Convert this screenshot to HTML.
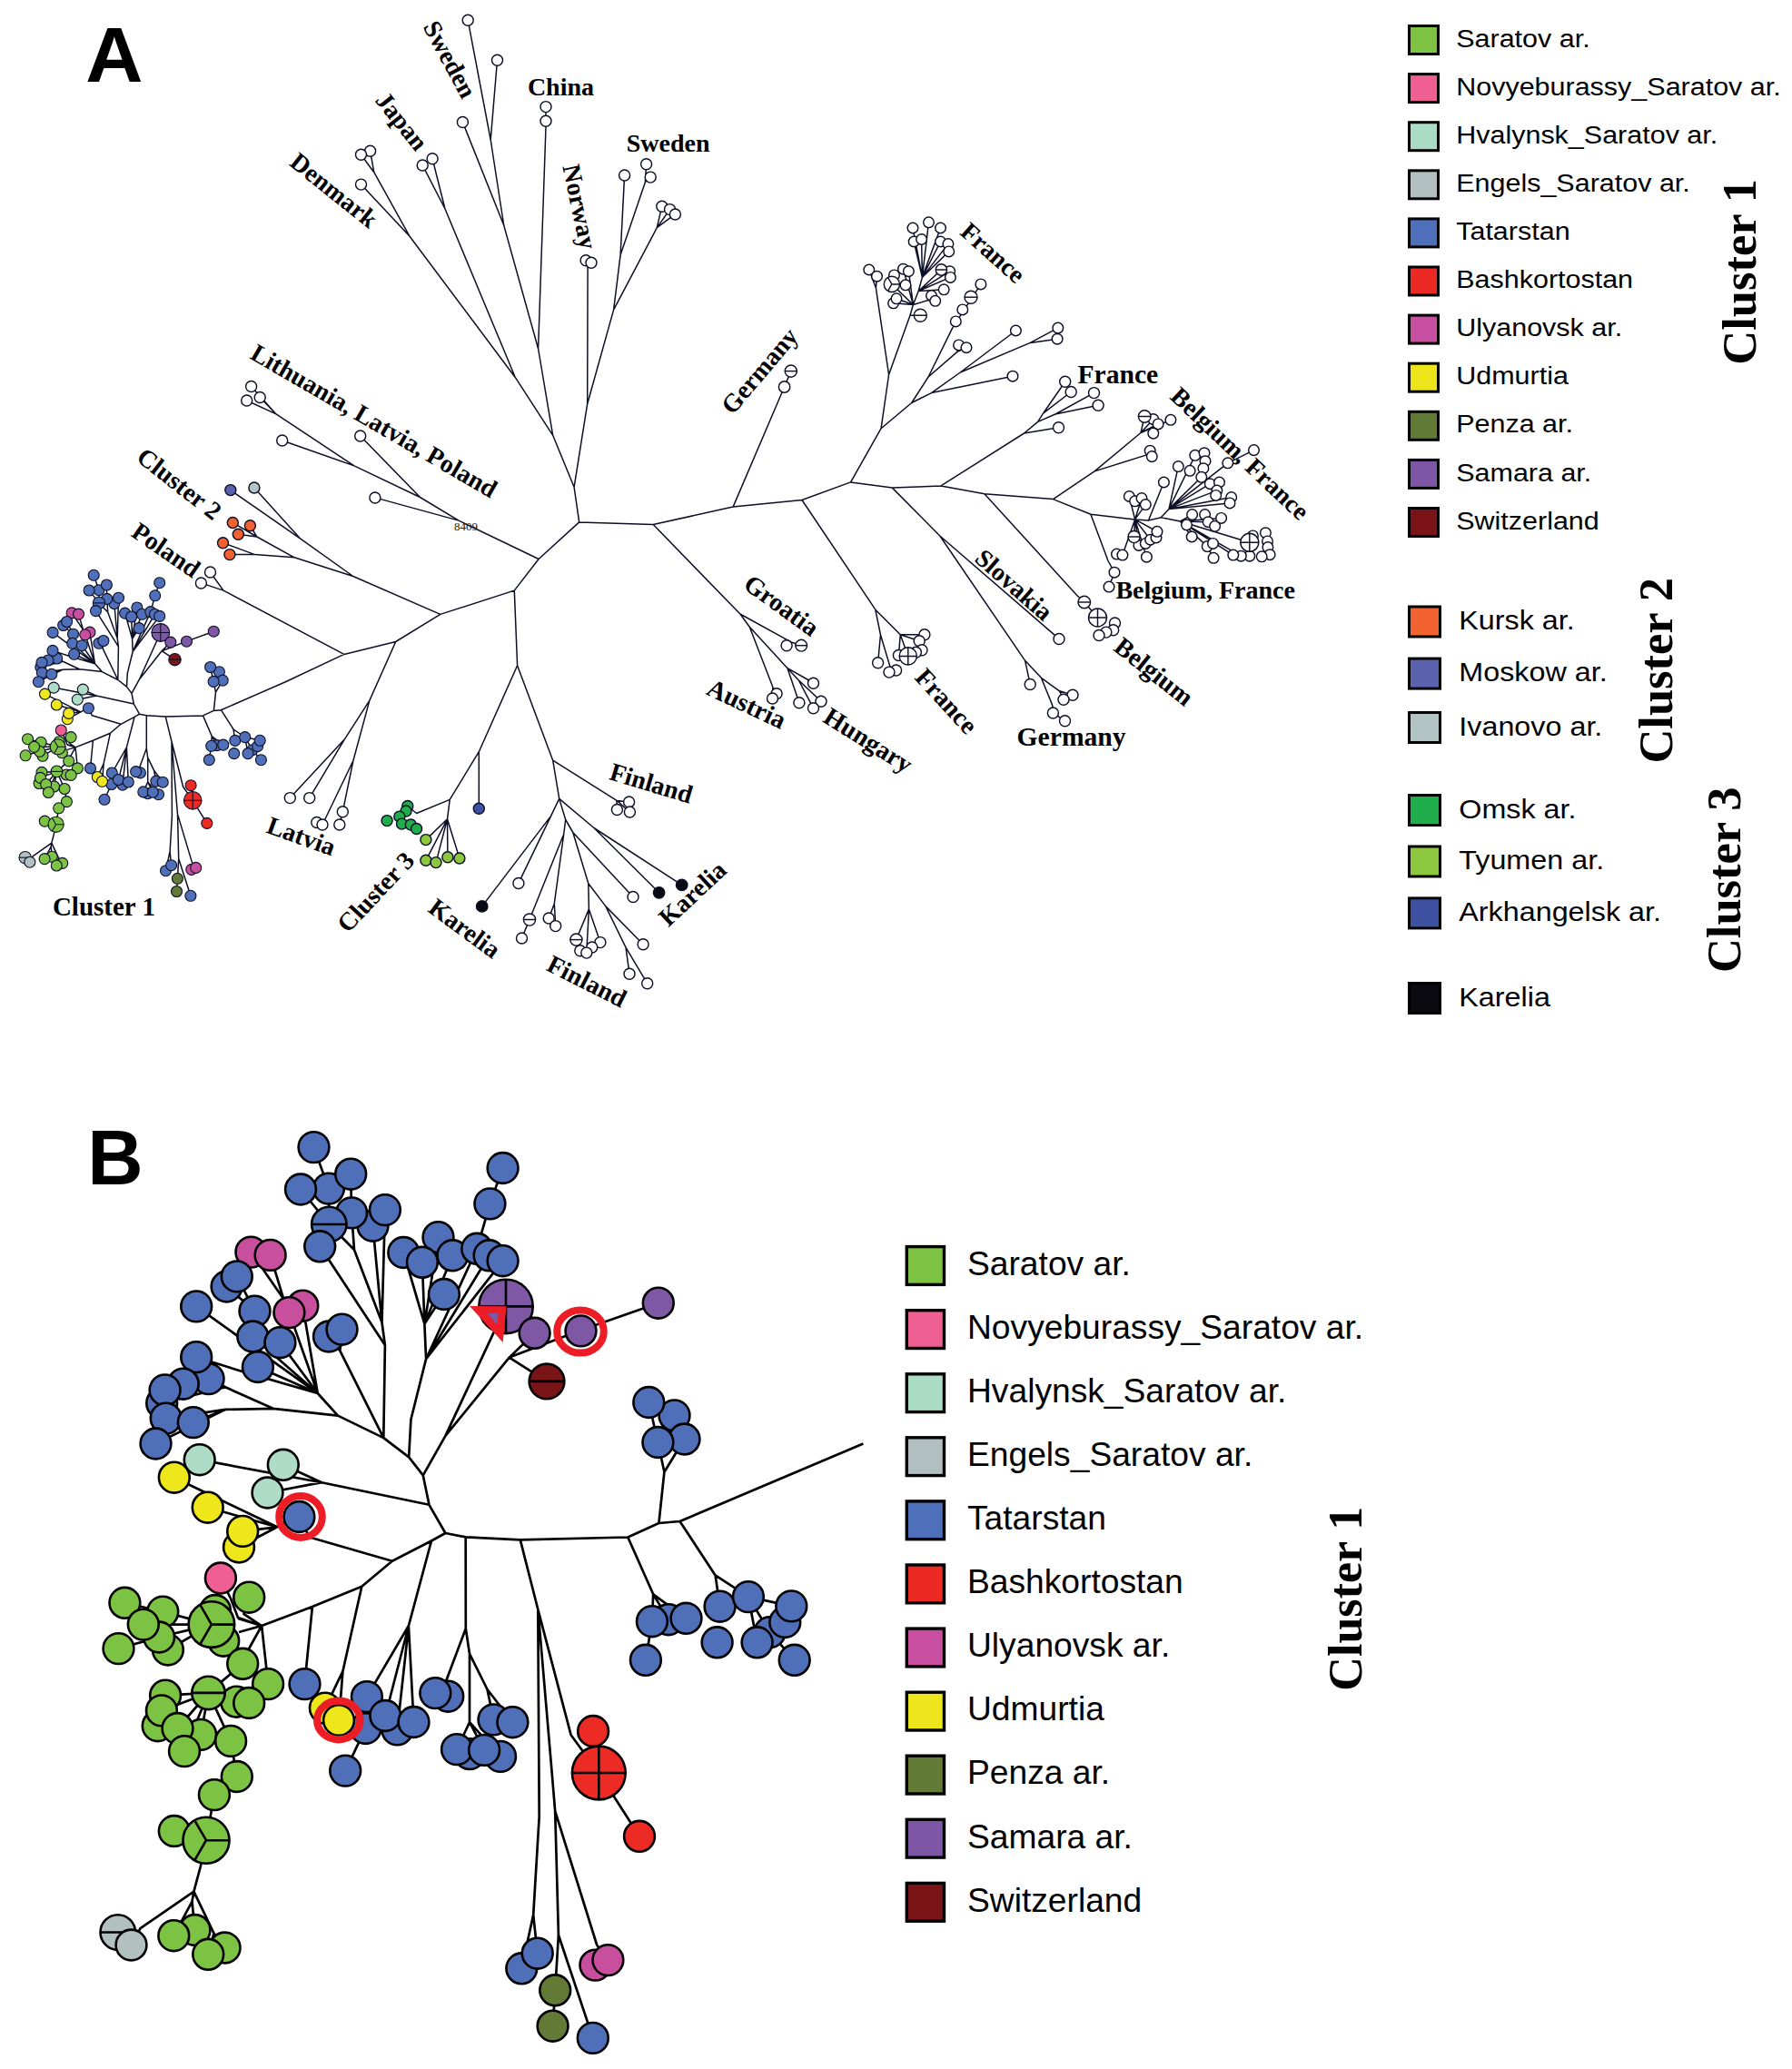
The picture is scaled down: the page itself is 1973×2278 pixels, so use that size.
<!DOCTYPE html>
<html><head><meta charset="utf-8"><style>html,body{margin:0;padding:0;background:#fff;}svg{display:block;}</style></head><body>
<svg width="1973" height="2278" viewBox="0 0 1973 2278">
<rect width="1973" height="2278" fill="#fff"/>
<path d="M719.2 577.5 L637.7 574.9 L632.1 536.3 L608.7 479.3 L592.6 384 L601 139.8M637.7 574.9 L593.1 615.5 L566.3 650.1 L484.8 676.4 L435.7 706.5 L378.8 720.4M592.6 384 L554.7 248 L540.2 154 L515.2 22.3M540.2 154 L547.5 66.3M554.7 248 L509.4 134.4M601 139.8 L601 117.6M608.7 479.3 L567.4 415.7 L490 230 L476.1 174.8M490 230 L465.2 181.9M567.4 415.7 L450.9 260 L411.8 189.7 L407.6 166.3M411.8 189.7 L397.5 170.3M450.9 260 L397.5 203.1M632.1 536.3 L646.7 444.7 L647.1 294.2 L645.1 286.7M647.1 294.2 L651 289.2M646.7 444.7 L675.6 341.1 L683.1 280.8 L687.6 192.9M683.1 280.8 L710.4 200.5 L711.6 180.7M710.4 200.5 L716.2 195.1M675.6 341.1 L723.3 250.7 L728.8 227.2M723.3 250.7 L737.5 230.6M723.3 250.7 L743.4 235.9M593.1 615.5 L505 573.1 L412.9 547.9M505 573.1 L462.5 547.5 L396.7 480M462.5 547.5 L390 512.9 L310.7 485M390 512.9 L304 455.9 L276.6 425.4M304 455.9 L286.2 437.4M304 455.9 L271.7 441M484.8 676.4 L388.8 634.5 L324.1 613.8 L282.8 591 L256.3 575.4M282.8 591 L275.4 578.7M282.8 591 L262.3 588.3M324.1 613.8 L280.6 610.6 L245.5 597.7M280.6 610.6 L252.9 610.6M388.8 634.5 L330.8 593.2 L253.8 539.6M330.8 593.2 L279.9 537M378.8 720.4 L246 650.1 L231.5 630M246 650.1 L221.4 641.9M435.7 706.5 L406.8 771.4 L379.1 814.3 L319.3 878.6M379.1 814.3 L340.7 878.6M406.8 771.4 L388.9 837.5 L355 908M388.9 837.5 L377.3 893.8 L373.8 908M566.3 650.1 L569.6 732.7 L527.3 827.7 L527.3 890.2M527.3 827.7 L495.2 880.4 L492.5 901.8 L468.9 924.6M492.5 901.8 L468.9 947.3M492.5 901.8 L480 949.6M492.5 901.8 L492.9 943.8M492.5 901.8 L505.9 945M495.2 880.4 L458.6 895.5 L448.8 887.5M569.6 732.7 L608.7 837.2 L679 881.4 L692.6 883M679 881.4 L679.4 891.4M679 881.4 L693.4 894M608.7 837.2 L615.7 879.4 L606.6 898.4 L530.7 997.9M606.6 898.4 L570.9 972.4M615.7 879.4 L622.7 902.5 L620.7 918.5 L583 1012.5 L574.5 1033M620.7 918.5 L610.3 994.9 L604.2 1010.9M610.3 994.9 L611.7 1019.6M622.7 902.5 L630.8 916.5 L647.8 972.8 L648.4 1000.9 L634.4 1034.6M648.4 1000.9 L660.9 1037.6M648.4 1000.9 L645.8 1049.1M647.8 972.8 L666.9 997.9 L708.1 1039.7M666.9 997.9 L689 1043.1 L693 1072.2M689 1043.1 L712.7 1082.8M630.8 916.5 L697 987.4M615.7 879.4 L653.9 911.5 L750.7 974.4M653.9 911.5 L725.6 982.8M719.2 577.5 L807.1 558.1 L883 550.5 L936.6 530.9 L982.4 537.1 L1036 534.9 L1083.9 543.8 L1159.5 549.6M807.1 558.1 L863.6 426 L870.8 408.6M883 550.5 L963.8 671.2M936.6 530.9 L970.1 471.7 L978.6 412.5M970.1 471.7 L1003.7 443.5M978.6 412.5 L964.4 317.1 L956.8 297M964.4 317.1 L965.5 304.2M978.6 412.5 L1002 347.2 L1013.3 347.2M1002 347.2 L1005.4 335.5 L983.6 333.8M1005.4 335.5 L987 328.8M1005.4 335.5 L981.9 312.9M1005.4 335.5 L994.5 296.2M1005.4 335.5 L1000.4 298.7M1005.4 335.5 L1022.1 330.5 L1029.7 331.3M1022.1 330.5 L1025.5 325.5M1005.4 335.5 L1011.2 320.5 L1015.4 305.4 L1006.2 266M1015.4 305.4 L1005 251M1015.4 305.4 L1014.6 263.5M1015.4 305.4 L1022.5 244.8M1015.4 305.4 L1035.5 251M1015.4 305.4 L1035.5 266M1015.4 305.4 L1043.9 268.6M1015.4 305.4 L1044.7 276.9M1011.2 320.5 L1036.4 297M1011.2 320.5 L1045.6 298.7M1011.2 320.5 L1046.4 305.4M1011.2 320.5 L1039.2 318.8M1003.7 443.5 L1022.1 415 L1048.9 360.6 L1079.9 312.9M1022.1 415 L1053.9 387.4 L1055.6 379.9M1053.9 387.4 L1064 382.7M1003.7 443.5 L1025.5 432.6 L1115 414.2M1025.5 432.6 L1057.3 410 L1118.4 364M1057.3 410 L1134.3 377.4 L1164.8 361.1M1134.3 377.4 L1164.1 373.2M1036 534.9 L1127.6 477 L1165.5 470.8M1127.6 477 L1142.7 464.4 L1148.5 455.2 L1172.7 420.3M1148.5 455.2 L1179.2 431.5M1142.7 464.4 L1161.9 456 L1204.5 432.6M1161.9 456 L1209.1 446.2M982.4 537.1 L1034.8 590 L1166 703.4M1034.8 590 L1128.6 727.3 L1134.2 753.4M1128.6 727.3 L1146.4 746.3 L1166.5 760.8 L1181 765.3M1166.5 760.8 L1171 770.2M1146.4 746.3 L1158.7 776.4 L1159.4 784.9 L1172.5 793.8M1083.9 543.8 L1186 655.7 L1193.8 663 L1208.5 680M1159.5 549.6 L1205.1 518.9 L1256 476.5 L1260.2 458.5M1256 476.5 L1269.8 461.6M1256 476.5 L1275.1 466.9M1256 476.5 L1288.9 462.3M1205.1 518.9 L1262.4 500.9 L1266.2 496.2M1262.4 500.9 L1268.3 502.6M1159.5 549.6 L1200.9 566.2 L1249.6 571.9 L1264.5 573 L1278.3 569.8 L1299.5 574M1200.9 566.2 L1220 617.5 L1227 630.2 L1221 646.1M1249.6 571.9 L1243.3 546.5M1249.6 571.9 L1257 548.6M1249.6 571.9 L1261.3 555.6M1249.6 571.9 L1248.6 591M1249.6 571.9 L1253.9 600.5M1249.6 571.9 L1266.6 594.2M1249.6 571.9 L1274 585.3M1249.6 571.9 L1262.4 613.2M1249.6 571.9 L1235.9 611.1 L1229.5 610.1M1264.5 573 L1281.4 531M1278.3 569.8 L1287 560.4 L1297.3 513.6M1287 560.4 L1315.8 501.3M1287 560.4 L1322.8 525.3M1287 560.4 L1351.8 509.8 L1380.5 495.6M1287 560.4 L1332.3 532.7M1287 560.4 L1339.8 540.1M1287 560.4 L1355.7 547.5M1287 560.4 L1354 553.9M1299.5 574 L1312.6 566.6M1299.5 574 L1330.2 574.7M1299.5 574 L1344.6 570.4M1299.5 574 L1312.2 591M1299.5 574 L1329.2 601.6 L1336.1 614.3M1299.5 574 L1375.8 597.3M1299.5 574 L1357.8 611.1M1299.5 574 L1366.3 612.2M719.2 577.5 L814.9 676 L871.8 707.3 L866.1 710.7M871.8 707.3 L882.2 710.7M814.9 676 L825.3 690.2 L850.9 756.6 L855.1 763.8M850.9 756.6 L850.5 768.9M825.3 690.2 L867 735.7 L888.8 748 L895.5 752.2M867 735.7 L879.9 773.7M867 735.7 L879.4 749 L904 772.2M879.4 749 L895.5 779.7M963.8 671.2 L969.5 699 L966.6 729.7M969.5 699 L979.9 733.8 L979 740.1M979.9 733.8 L986.6 738M963.8 671.2 L991.3 698.7 L999.8 722.4M991.3 698.7 L1017.9 698.7M991.3 698.7 L1012.2 705.8M991.3 698.7 L989.4 721.5M153.5 786.2 L161.3 787.8 L182.2 788.9 L223.5 787.9 L235.4 782.4 L243.4 781.7 L313.8 751M235.4 782.4 L237.5 762.1 L235.1 750.4 L231.6 734.5M237.5 762.1 L245.2 749.1 L241.4 739.7M243.4 781.7 L257 803 L258.8 815.4M257 803 L269.7 811.6 L286.2 815.3M269.7 811.6 L277.9 825.7M269.7 811.6 L273 829.6M277.9 825.7 L287.4 836.7M223.5 787.9 L233.2 810.5 L232.7 821.3 L230.3 836.6M233.2 810.5 L239 820.6M233.2 810.5 L245.8 820.1M182.2 788.9 L189 816.5 L189.4 898.5 L187.1 937.5 L188.6 952.7M187.1 937.5 L182.5 958.7M189 816.5 L194.2 880.5 L195.5 896.4 L196.7 945.5 L195.4 967.3 L194.5 981.5M196.7 945.5 L209.9 986.3M195.5 896.4 L211.4 949.4 L215.7 955.4M189 816.5 L201.6 866.2 L212.2 881.3M210.1 864.7 L212.2 881.3 L227.8 906.4M161.3 787.8 L161.3 824 L154 844.1 L149.6 849.6M154 844.1 L154.4 850.9M161.3 824 L162.7 834.1 L162.7 861.1 L157.8 871.9M162.7 861.1 L168.3 872.2M162.7 861.1 L174.5 874.7M162.7 834.1 L169.5 848.1 L171.9 860.1M169.5 848.1 L179.2 861.2M153.5 786.2 L148.1 789.3 L139.4 822.9 L123.3 851M139.4 822.9 L130.4 858.5 L122.8 863.5M139.4 822.9 L135 864.1M139.4 822.9 L141.3 861M148.1 789.3 L133.1 797.3 L121.4 807.3 L102.4 815.3 L83 822.9 L73.9 820M83 822.9 L74.2 825.4M133.1 797.3 L101.4 787.8 L97.1 779.4M121.4 807.3 L114.1 840.9 L112.6 860.2M122.8 863.5 L115 880.3M114.1 840.9 L107.3 855.5M102.4 815.3 L100 840.4 L99.5 845.9M83 822.9 L84.9 840.9 L85.4 845.9M83 822.9 L78.1 831.8 L75.7 837.9M67.3 804 L71.1 812.1 L73.9 819.6 L83 822.9M78.1 811.6 L76.2 818.2 L83 822.9M63.7 822.3 L45.1 817.3 L30.5 813.7M63.7 822.3 L37.6 822.3M63.7 822.3 L43.6 827.3 L28.1 831.8M63.7 822.3 L47 832.3M63.7 822.3 L68.4 828.8 L75.7 837.9M75.7 837.9 L62.5 849.4M62.5 849.4 L46 850.4M62.5 849.4 L44.5 856.4M62.5 849.4 L73.2 853 L78.1 853.4M62.5 849.4 L50.7 863.5 L43.1 862.5M62.5 849.4 L53.3 872.5M62.5 849.4 L59.6 866M62.5 849.4 L71.1 868.5 L73.4 882.6 L64.7 889.8 L61.6 907.8M61.6 907.8 L49.3 904.1M61.6 907.8 L59.4 918.2 L56.8 928.1 L36.3 942.6 L32.8 949.2M56.8 928.1 L56.2 932 L57.2 943.3M56.2 932 L49.1 945.6M56.8 928.1 L64.5 944.6 L68.7 950.4M64.5 944.6 L62.3 953M153.5 786.2 L147.3 775 L145 763.4 L139.5 756.1 L129.8 748.5 L112.3 739.6 L104.5 730.8M147.3 775 L106.1 766.1 L59.2 757.1M106.1 766.1 L91.3 759.1M106.1 766.1 L85.3 770.2M97.1 779.4 L88.9 783.8 L49.5 764.1M88.9 783.8 L62.3 776M88.9 783.8 L75.7 785.4M88.9 783.8 L74.3 791.7M145 763.4 L153.6 747.7 L176.8 696.5M153.6 747.7 L178.1 716.7 L187.8 707.1M178.1 716.7 L205.2 706.1 L235.3 695.2M178.1 716.7 L192.5 726.2M139.5 756.1 L140.3 741.3 L146.2 717.2 L145.6 703.4 L137.6 675.1M145.6 703.4 L144.7 679M145.6 703.4 L150.9 669M145.6 703.4 L156.4 676.3M145.6 703.4 L153.1 691.6M146.2 717.2 L165.8 673.6 L170.7 655.8 L175.7 641.7M146.2 717.2 L170.4 676.3M146.2 717.2 L175.7 678.4M129.8 748.5 L130.4 711.8 L129.2 702.8 L125.8 664.5M129.2 702.8 L130.5 658.2M129.2 702.8 L118.7 674 L109 663.9M118.7 674 L117.7 659.4 L117.4 644M109 663.9 L108.9 649.7 L103.2 633.3M109 663.9 L98.1 650M130.4 711.8 L109.2 678.3 L105.5 672.6M129.8 748.5 L113.1 713.9 L108.9 708.3M113.1 713.9 L113.9 705.5M104.5 730.8 L81.6 720.3M104.5 730.8 L90.2 710.7M104.5 730.8 L79.7 708.3 L80.5 698.2 L73.6 684.5M80.5 698.2 L69.7 688.5M104.5 730.8 L93.7 698.8 L91.5 693.3 L86.5 676.1M91.5 693.3 L79.1 674.9M104.5 730.8 L98.9 696.1M104.5 730.8 L58.1 696.4M104.5 730.8 L75.9 722.2 L58 716.4M112.3 739.6 L87.4 736.8 L69.2 737.2 L56.8 742.3M69.2 737.2 L46.3 740.7M69.2 737.2 L42.4 750.7M87.4 736.8 L69.2 728.3 L62.7 725M69.2 728.3 L53 727M69.2 728.3 L46 729.4M69.2 728.3 L44.8 734.6M313.8 751 L378.8 720.4" fill="none" stroke="#0d0f26" stroke-width="1.5" stroke-linejoin="round"/>
<g stroke="#0d0f26" stroke-width="1.45">
<circle cx="515.2" cy="22.3" r="6" fill="#ffffff"/>
<circle cx="547.5" cy="66.3" r="6" fill="#ffffff"/>
<circle cx="509.4" cy="134.4" r="6" fill="#ffffff"/>
<circle cx="601" cy="117.6" r="6" fill="#ffffff"/>
<circle cx="601" cy="133.3" r="6" fill="#ffffff"/>
<circle cx="476.1" cy="174.8" r="6" fill="#ffffff"/>
<circle cx="465.2" cy="181.9" r="6" fill="#ffffff"/>
<circle cx="407.6" cy="166.3" r="6" fill="#ffffff"/>
<circle cx="397.5" cy="170.3" r="6" fill="#ffffff"/>
<circle cx="397.5" cy="203.1" r="6" fill="#ffffff"/>
<circle cx="645.1" cy="286.7" r="6" fill="#ffffff"/>
<circle cx="651" cy="289.2" r="6" fill="#ffffff"/>
<circle cx="687.6" cy="192.9" r="6" fill="#ffffff"/>
<circle cx="711.6" cy="180.7" r="6" fill="#ffffff"/>
<circle cx="716.2" cy="195.1" r="6" fill="#ffffff"/>
<circle cx="728.8" cy="227.2" r="6" fill="#ffffff"/>
<circle cx="737.5" cy="230.6" r="6" fill="#ffffff"/>
<circle cx="743.4" cy="235.9" r="6" fill="#ffffff"/>
<circle cx="276.6" cy="425.4" r="6" fill="#ffffff"/>
<circle cx="286.2" cy="437.4" r="6" fill="#ffffff"/>
<circle cx="271.7" cy="441" r="6" fill="#ffffff"/>
<circle cx="310.7" cy="485" r="6" fill="#ffffff"/>
<circle cx="396.7" cy="480" r="6" fill="#ffffff"/>
<circle cx="412.9" cy="547.9" r="6" fill="#ffffff"/>
<circle cx="253.8" cy="539.6" r="6" fill="#5b62ad"/>
<circle cx="279.9" cy="537" r="6" fill="#b3c4c4"/>
<circle cx="256.3" cy="575.4" r="6" fill="#f26130"/>
<circle cx="275.4" cy="578.7" r="6" fill="#f26130"/>
<circle cx="262.3" cy="588.3" r="6" fill="#f26130"/>
<circle cx="245.5" cy="597.7" r="6" fill="#f26130"/>
<circle cx="252.9" cy="610.6" r="6" fill="#f26130"/>
<circle cx="231.5" cy="630" r="6" fill="#ffffff"/>
<circle cx="221.4" cy="641.9" r="6" fill="#ffffff"/>
<circle cx="319.3" cy="878.6" r="6" fill="#ffffff"/>
<circle cx="340.7" cy="878.6" r="6" fill="#ffffff"/>
<circle cx="348.8" cy="905.4" r="6" fill="#ffffff"/>
<circle cx="355" cy="908" r="6" fill="#ffffff"/>
<circle cx="377.3" cy="893.8" r="6" fill="#ffffff"/>
<circle cx="373.8" cy="908" r="6" fill="#ffffff"/>
<circle cx="527.3" cy="890.2" r="6" fill="#3f51a3"/>
<circle cx="448.8" cy="887.5" r="6" fill="#1fae4b"/>
<circle cx="447" cy="892.9" r="6" fill="#1fae4b"/>
<circle cx="439.8" cy="899.1" r="6" fill="#1fae4b"/>
<circle cx="426.1" cy="903.6" r="6" fill="#1fae4b"/>
<circle cx="442.5" cy="907.1" r="6" fill="#1fae4b"/>
<circle cx="452.3" cy="908" r="6" fill="#1fae4b"/>
<circle cx="458.6" cy="912.5" r="6" fill="#1fae4b"/>
<circle cx="468.9" cy="924.6" r="6" fill="#8dc63f"/>
<circle cx="468.9" cy="947.3" r="6" fill="#8dc63f"/>
<circle cx="480" cy="949.6" r="6" fill="#8dc63f"/>
<circle cx="492.9" cy="943.8" r="6" fill="#8dc63f"/>
<circle cx="505.9" cy="945" r="6" fill="#8dc63f"/>
<circle cx="692.6" cy="883" r="6" fill="#ffffff"/>
<circle cx="679.4" cy="891.4" r="6" fill="#ffffff"/>
<circle cx="693.4" cy="894" r="6" fill="#ffffff"/>
<circle cx="570.9" cy="972.4" r="6" fill="#ffffff"/>
<circle cx="574.5" cy="1033" r="6" fill="#ffffff"/>
<circle cx="604.2" cy="1010.9" r="6" fill="#ffffff"/>
<circle cx="611.7" cy="1019.6" r="6" fill="#ffffff"/>
<circle cx="660.9" cy="1037.6" r="6" fill="#ffffff"/>
<circle cx="651.8" cy="1043" r="6" fill="#ffffff"/>
<circle cx="638.8" cy="1046.7" r="6" fill="#ffffff"/>
<circle cx="645.8" cy="1049.1" r="6" fill="#ffffff"/>
<circle cx="708.1" cy="1039.7" r="6" fill="#ffffff"/>
<circle cx="693" cy="1072.2" r="6" fill="#ffffff"/>
<circle cx="712.7" cy="1082.8" r="6" fill="#ffffff"/>
<circle cx="697" cy="987.4" r="6" fill="#ffffff"/>
<circle cx="583" cy="1012.5" r="6.6" fill="#ffffff"/><path d="M576.4 1012.5H589.6"/>
<circle cx="634.4" cy="1034.6" r="6.6" fill="#ffffff"/><path d="M627.8 1034.6H641"/>
<circle cx="530.7" cy="997.9" r="6.2" fill="#0a0a12"/>
<circle cx="725.6" cy="982.8" r="6.2" fill="#0a0a12"/>
<circle cx="750.7" cy="974.4" r="6.2" fill="#0a0a12"/>
<circle cx="863.6" cy="426" r="6.2" fill="#ffffff"/>
<circle cx="870.8" cy="408.6" r="6.6" fill="#ffffff"/><path d="M864.2 408.6H877.4"/>
<circle cx="866.1" cy="710.7" r="6" fill="#ffffff"/>
<circle cx="882.2" cy="710.7" r="6.4" fill="#ffffff"/><path d="M875.8 710.7H888.6"/>
<circle cx="855.1" cy="763.8" r="6" fill="#ffffff"/>
<circle cx="850.5" cy="768.9" r="6" fill="#ffffff"/>
<circle cx="895.5" cy="752.2" r="6" fill="#ffffff"/>
<circle cx="879.9" cy="773.7" r="6" fill="#ffffff"/>
<circle cx="904" cy="772.2" r="6" fill="#ffffff"/>
<circle cx="895.5" cy="779.7" r="6" fill="#ffffff"/>
<circle cx="966.6" cy="729.7" r="6" fill="#ffffff"/>
<circle cx="986.6" cy="738" r="6" fill="#ffffff"/>
<circle cx="979" cy="740.1" r="6" fill="#ffffff"/>
<circle cx="1017.9" cy="698.7" r="6" fill="#ffffff"/>
<circle cx="1012.2" cy="705.8" r="6" fill="#ffffff"/>
<circle cx="1015" cy="715.8" r="6" fill="#ffffff"/>
<circle cx="1008.4" cy="718.3" r="6" fill="#ffffff"/>
<circle cx="989.4" cy="721.5" r="6" fill="#ffffff"/>
<circle cx="999.8" cy="722.4" r="9.6" fill="#ffffff"/><path d="M990.2 722.4H1009.4M999.8 712.8V732"/>
<circle cx="1166" cy="703.4" r="6" fill="#ffffff"/>
<circle cx="1134.2" cy="753.4" r="6" fill="#ffffff"/>
<circle cx="1181" cy="765.3" r="6" fill="#ffffff"/>
<circle cx="1171" cy="770.2" r="6" fill="#ffffff"/>
<circle cx="1159.4" cy="784.9" r="6" fill="#ffffff"/>
<circle cx="1172.5" cy="793.8" r="6" fill="#ffffff"/>
<circle cx="1193.8" cy="663" r="6.8" fill="#ffffff"/><path d="M1187 663H1200.6"/>
<circle cx="1208.5" cy="680" r="10" fill="#ffffff"/><path d="M1198.5 680H1218.5M1208.5 670V690"/>
<circle cx="1227.5" cy="686" r="6" fill="#ffffff"/>
<circle cx="1225.7" cy="693.8" r="6" fill="#ffffff"/>
<circle cx="1217.9" cy="696.1" r="6" fill="#ffffff"/>
<circle cx="1210" cy="699.4" r="6" fill="#ffffff"/>
<circle cx="956.8" cy="297" r="5.8" fill="#ffffff"/>
<circle cx="965.5" cy="304.2" r="5.8" fill="#ffffff"/>
<circle cx="983.6" cy="333.8" r="5.8" fill="#ffffff"/>
<circle cx="987" cy="328.8" r="5.8" fill="#ffffff"/>
<circle cx="994.5" cy="296.2" r="5.8" fill="#ffffff"/>
<circle cx="1000.4" cy="298.7" r="5.8" fill="#ffffff"/>
<circle cx="997" cy="313.8" r="5.8" fill="#ffffff"/>
<circle cx="984.5" cy="302.9" r="5.8" fill="#ffffff"/>
<circle cx="1025.5" cy="325.5" r="5.8" fill="#ffffff"/>
<circle cx="1029.7" cy="331.3" r="5.8" fill="#ffffff"/>
<circle cx="1006.2" cy="266" r="5.8" fill="#ffffff"/>
<circle cx="1005" cy="251" r="5.8" fill="#ffffff"/>
<circle cx="1014.6" cy="263.5" r="5.8" fill="#ffffff"/>
<circle cx="1022.5" cy="244.8" r="5.8" fill="#ffffff"/>
<circle cx="1035.5" cy="251" r="5.8" fill="#ffffff"/>
<circle cx="1035.5" cy="266" r="5.8" fill="#ffffff"/>
<circle cx="1043.9" cy="268.6" r="5.8" fill="#ffffff"/>
<circle cx="1044.7" cy="276.9" r="5.8" fill="#ffffff"/>
<circle cx="1045.6" cy="298.7" r="5.8" fill="#ffffff"/>
<circle cx="1046.4" cy="305.4" r="5.8" fill="#ffffff"/>
<circle cx="1039.2" cy="318.8" r="5.8" fill="#ffffff"/>
<circle cx="1052.3" cy="353.9" r="5.8" fill="#ffffff"/>
<circle cx="1059.8" cy="340.9" r="5.8" fill="#ffffff"/>
<circle cx="1079.9" cy="312.9" r="5.8" fill="#ffffff"/>
<circle cx="1055.6" cy="379.9" r="5.8" fill="#ffffff"/>
<circle cx="1064" cy="382.7" r="5.8" fill="#ffffff"/>
<circle cx="1115" cy="414.2" r="5.8" fill="#ffffff"/>
<circle cx="1118.4" cy="364" r="5.8" fill="#ffffff"/>
<circle cx="1164.8" cy="361.1" r="5.8" fill="#ffffff"/>
<circle cx="1164.1" cy="373.2" r="5.8" fill="#ffffff"/>
<circle cx="981.9" cy="312.9" r="8.6" fill="#ffffff"/><path d="M981.9 312.9L990.5 312.9M981.9 312.9L977.6 320.3M981.9 312.9L977.6 305.5"/>
<circle cx="1036.4" cy="297" r="6.2" fill="#ffffff"/><path d="M1030.2 297H1042.6"/>
<circle cx="1013.3" cy="347.2" r="7" fill="#ffffff"/><path d="M1006.3 347.2H1020.3"/>
<circle cx="1069" cy="327.2" r="7" fill="#ffffff"/><path d="M1062 327.2H1076"/>
<circle cx="1165.5" cy="470.8" r="6" fill="#ffffff"/>
<circle cx="1172.7" cy="420.3" r="6" fill="#ffffff"/>
<circle cx="1179.2" cy="431.5" r="6" fill="#ffffff"/>
<circle cx="1204.5" cy="432.6" r="6" fill="#ffffff"/>
<circle cx="1209.1" cy="446.2" r="6" fill="#ffffff"/>
<circle cx="1269.8" cy="461.6" r="5.8" fill="#ffffff"/>
<circle cx="1275.1" cy="466.9" r="5.8" fill="#ffffff"/>
<circle cx="1269.8" cy="477.1" r="5.8" fill="#ffffff"/>
<circle cx="1288.9" cy="462.3" r="5.8" fill="#ffffff"/>
<circle cx="1266.2" cy="496.2" r="5.8" fill="#ffffff"/>
<circle cx="1268.3" cy="502.6" r="5.8" fill="#ffffff"/>
<circle cx="1227" cy="630.2" r="5.8" fill="#ffffff"/>
<circle cx="1221" cy="646.1" r="5.8" fill="#ffffff"/>
<circle cx="1243.3" cy="546.5" r="5.8" fill="#ffffff"/>
<circle cx="1249.6" cy="551.8" r="5.8" fill="#ffffff"/>
<circle cx="1257" cy="548.6" r="5.8" fill="#ffffff"/>
<circle cx="1261.3" cy="555.6" r="5.8" fill="#ffffff"/>
<circle cx="1253.9" cy="600.5" r="5.8" fill="#ffffff"/>
<circle cx="1261.3" cy="598.4" r="5.8" fill="#ffffff"/>
<circle cx="1266.6" cy="594.2" r="5.8" fill="#ffffff"/>
<circle cx="1273" cy="592" r="5.8" fill="#ffffff"/>
<circle cx="1274" cy="585.3" r="5.8" fill="#ffffff"/>
<circle cx="1262.4" cy="613.2" r="5.8" fill="#ffffff"/>
<circle cx="1229.5" cy="610.1" r="5.8" fill="#ffffff"/>
<circle cx="1235.9" cy="611.1" r="5.8" fill="#ffffff"/>
<circle cx="1281.4" cy="531" r="5.8" fill="#ffffff"/>
<circle cx="1297.3" cy="513.6" r="5.8" fill="#ffffff"/>
<circle cx="1310.1" cy="518.3" r="5.8" fill="#ffffff"/>
<circle cx="1315.8" cy="501.3" r="5.8" fill="#ffffff"/>
<circle cx="1326" cy="498.7" r="5.8" fill="#ffffff"/>
<circle cx="1327" cy="507.7" r="5.8" fill="#ffffff"/>
<circle cx="1324.9" cy="515.7" r="5.8" fill="#ffffff"/>
<circle cx="1322.8" cy="525.3" r="5.8" fill="#ffffff"/>
<circle cx="1351.8" cy="509.8" r="5.8" fill="#ffffff"/>
<circle cx="1380.5" cy="495.6" r="5.8" fill="#ffffff"/>
<circle cx="1332.3" cy="532.7" r="5.8" fill="#ffffff"/>
<circle cx="1342.5" cy="531" r="5.8" fill="#ffffff"/>
<circle cx="1339.8" cy="540.1" r="5.8" fill="#ffffff"/>
<circle cx="1338.7" cy="545.4" r="5.8" fill="#ffffff"/>
<circle cx="1355.7" cy="547.5" r="5.8" fill="#ffffff"/>
<circle cx="1354" cy="553.9" r="5.8" fill="#ffffff"/>
<circle cx="1312.6" cy="566.6" r="5.8" fill="#ffffff"/>
<circle cx="1306.5" cy="577.8" r="5.8" fill="#ffffff"/>
<circle cx="1326.6" cy="566.6" r="5.8" fill="#ffffff"/>
<circle cx="1330.2" cy="574.7" r="5.8" fill="#ffffff"/>
<circle cx="1337.6" cy="579.3" r="5.8" fill="#ffffff"/>
<circle cx="1344.6" cy="570.4" r="5.8" fill="#ffffff"/>
<circle cx="1312.2" cy="591" r="5.8" fill="#ffffff"/>
<circle cx="1329.2" cy="601.6" r="5.8" fill="#ffffff"/>
<circle cx="1335.5" cy="598.4" r="5.8" fill="#ffffff"/>
<circle cx="1336.1" cy="614.3" r="5.8" fill="#ffffff"/>
<circle cx="1379.4" cy="589.9" r="5.8" fill="#ffffff"/>
<circle cx="1393.4" cy="586.7" r="5.8" fill="#ffffff"/>
<circle cx="1395.5" cy="595.9" r="5.8" fill="#ffffff"/>
<circle cx="1395.9" cy="602.6" r="5.8" fill="#ffffff"/>
<circle cx="1398.1" cy="610.7" r="5.8" fill="#ffffff"/>
<circle cx="1389.2" cy="612.8" r="5.8" fill="#ffffff"/>
<circle cx="1375.8" cy="612.2" r="5.8" fill="#ffffff"/>
<circle cx="1366.3" cy="612.2" r="5.8" fill="#ffffff"/>
<circle cx="1357.8" cy="611.1" r="5.8" fill="#ffffff"/>
<circle cx="1260.2" cy="458.5" r="6.8" fill="#ffffff"/><path d="M1253.4 458.5H1267"/>
<circle cx="1248.6" cy="591" r="6.6" fill="#ffffff"/><path d="M1242 591H1255.2"/>
<circle cx="1375.8" cy="597.3" r="10" fill="#ffffff"/><path d="M1365.8 597.3H1385.8M1375.8 587.3V607.3"/>
</g>
<g stroke="#0d0f26" stroke-width="1.1">
<circle cx="103.2" cy="633.3" r="6" fill="#4f6fb8"/>
<circle cx="108.9" cy="649.7" r="6" fill="#4f6fb8"/>
<circle cx="98.1" cy="650" r="6" fill="#4f6fb8"/>
<circle cx="117.4" cy="644" r="6" fill="#4f6fb8"/>
<circle cx="125.8" cy="664.5" r="6" fill="#4f6fb8"/>
<circle cx="117.7" cy="659.4" r="6" fill="#4f6fb8"/>
<circle cx="130.5" cy="658.2" r="6" fill="#4f6fb8"/>
<circle cx="109" cy="663.9" r="6.7" fill="#4f6fb8"/><path d="M102.3 663.9H115.7"/>
<circle cx="105.5" cy="672.6" r="6" fill="#4f6fb8"/>
<circle cx="175.7" cy="641.7" r="6" fill="#4f6fb8"/>
<circle cx="170.7" cy="655.8" r="6" fill="#4f6fb8"/>
<circle cx="150.9" cy="669" r="6" fill="#4f6fb8"/>
<circle cx="137.6" cy="675.1" r="6" fill="#4f6fb8"/>
<circle cx="144.7" cy="679" r="6" fill="#4f6fb8"/>
<circle cx="156.4" cy="676.3" r="6" fill="#4f6fb8"/>
<circle cx="165.8" cy="673.6" r="6" fill="#4f6fb8"/>
<circle cx="170.4" cy="676.3" r="6" fill="#4f6fb8"/>
<circle cx="175.7" cy="678.4" r="6" fill="#4f6fb8"/>
<circle cx="153.1" cy="691.6" r="6" fill="#4f6fb8"/>
<circle cx="79.1" cy="674.9" r="6" fill="#c84f9e"/>
<circle cx="86.5" cy="676.1" r="6" fill="#c84f9e"/>
<circle cx="69.7" cy="688.5" r="6" fill="#4f6fb8"/>
<circle cx="73.6" cy="684.5" r="6" fill="#4f6fb8"/>
<circle cx="58.1" cy="696.4" r="6" fill="#4f6fb8"/>
<circle cx="80.5" cy="698.2" r="6" fill="#4f6fb8"/>
<circle cx="98.9" cy="696.1" r="6" fill="#c84f9e"/>
<circle cx="93.7" cy="698.8" r="6" fill="#c84f9e"/>
<circle cx="79.7" cy="708.3" r="6" fill="#4f6fb8"/>
<circle cx="90.2" cy="710.7" r="6" fill="#4f6fb8"/>
<circle cx="81.6" cy="720.3" r="6" fill="#4f6fb8"/>
<circle cx="108.9" cy="708.3" r="6" fill="#4f6fb8"/>
<circle cx="113.9" cy="705.5" r="6" fill="#4f6fb8"/>
<circle cx="62.7" cy="725" r="6" fill="#4f6fb8"/>
<circle cx="58" cy="716.4" r="6" fill="#4f6fb8"/>
<circle cx="53" cy="727" r="6" fill="#4f6fb8"/>
<circle cx="44.8" cy="734.6" r="6" fill="#4f6fb8"/>
<circle cx="46" cy="729.4" r="6" fill="#4f6fb8"/>
<circle cx="46.3" cy="740.7" r="6" fill="#4f6fb8"/>
<circle cx="56.8" cy="742.3" r="6" fill="#4f6fb8"/>
<circle cx="42.4" cy="750.7" r="6" fill="#4f6fb8"/>
<circle cx="59.2" cy="757.1" r="6" fill="#aedcc6"/>
<circle cx="91.3" cy="759.1" r="6" fill="#aedcc6"/>
<circle cx="85.3" cy="770.2" r="6" fill="#aedcc6"/>
<circle cx="49.5" cy="764.1" r="6" fill="#eee71c"/>
<circle cx="62.3" cy="776" r="6" fill="#eee71c"/>
<circle cx="74.3" cy="791.7" r="6" fill="#eee71c"/>
<circle cx="75.7" cy="785.4" r="6" fill="#eee71c"/>
<circle cx="97.4" cy="779.7" r="6" fill="#4f6fb8"/>
<circle cx="65.2" cy="816.7" r="6" fill="#7cc243"/>
<circle cx="67.3" cy="804" r="6" fill="#ef5f93"/>
<circle cx="78.1" cy="811.6" r="6" fill="#7cc243"/>
<circle cx="30.5" cy="813.7" r="6" fill="#7cc243"/>
<circle cx="45.1" cy="817.3" r="6" fill="#7cc243"/>
<circle cx="68.4" cy="828.8" r="6" fill="#7cc243"/>
<circle cx="63.7" cy="822.3" r="8.5" fill="#7cc243"/><path d="M63.7 822.3L72.3 822.3M63.7 822.3L59.5 829.7M63.7 822.3L59.5 814.9"/>
<circle cx="47" cy="832.3" r="6" fill="#7cc243"/>
<circle cx="43.6" cy="827.3" r="6" fill="#7cc243"/>
<circle cx="37.6" cy="822.3" r="6" fill="#7cc243"/>
<circle cx="28.1" cy="831.8" r="6" fill="#7cc243"/>
<circle cx="75.7" cy="837.9" r="6" fill="#7cc243"/>
<circle cx="85.4" cy="845.9" r="6" fill="#7cc243"/>
<circle cx="46" cy="850.4" r="6" fill="#7cc243"/>
<circle cx="43.1" cy="862.5" r="6" fill="#7cc243"/>
<circle cx="44.5" cy="856.4" r="6" fill="#7cc243"/>
<circle cx="73.2" cy="853" r="6" fill="#7cc243"/>
<circle cx="78.1" cy="853.4" r="6" fill="#7cc243"/>
<circle cx="62.5" cy="849.4" r="6.4" fill="#7cc243"/><path d="M56.1 849.4H68.9"/>
<circle cx="59.6" cy="866" r="6" fill="#7cc243"/>
<circle cx="50.7" cy="863.5" r="6" fill="#7cc243"/>
<circle cx="71.1" cy="868.5" r="6" fill="#7cc243"/>
<circle cx="53.3" cy="872.5" r="6" fill="#7cc243"/>
<circle cx="73.4" cy="882.6" r="6" fill="#7cc243"/>
<circle cx="64.7" cy="889.8" r="6" fill="#7cc243"/>
<circle cx="49.3" cy="904.1" r="6" fill="#7cc243"/>
<circle cx="61.6" cy="907.8" r="8.6" fill="#7cc243"/><path d="M61.6 907.8L70.2 907.8M61.6 907.8L57.3 915.2M61.6 907.8L57.3 900.3"/>
<circle cx="27.7" cy="944.2" r="6.7" fill="#b2c0c0"/><path d="M20.9 944.2H34.4"/>
<circle cx="32.8" cy="949.2" r="6" fill="#b2c0c0"/>
<circle cx="57.2" cy="943.3" r="6" fill="#7cc243"/>
<circle cx="49.1" cy="945.6" r="6" fill="#7cc243"/>
<circle cx="68.7" cy="950.4" r="6" fill="#7cc243"/>
<circle cx="62.3" cy="953" r="6" fill="#7cc243"/>
<circle cx="99.5" cy="845.9" r="6" fill="#4f6fb8"/>
<circle cx="107.3" cy="855.5" r="6" fill="#eee71c"/>
<circle cx="122.8" cy="863.5" r="6" fill="#4f6fb8"/>
<circle cx="112.5" cy="860.3" r="6" fill="#eee71c"/>
<circle cx="115" cy="880.3" r="6" fill="#4f6fb8"/>
<circle cx="123.3" cy="851" r="6" fill="#4f6fb8"/>
<circle cx="135" cy="864.1" r="6" fill="#4f6fb8"/>
<circle cx="130.4" cy="858.5" r="6" fill="#4f6fb8"/>
<circle cx="141.3" cy="861" r="6" fill="#4f6fb8"/>
<circle cx="154.4" cy="850.9" r="6" fill="#4f6fb8"/>
<circle cx="149.6" cy="849.6" r="6" fill="#4f6fb8"/>
<circle cx="171.9" cy="860.1" r="6" fill="#4f6fb8"/>
<circle cx="179.2" cy="861.2" r="6" fill="#4f6fb8"/>
<circle cx="162.7" cy="873.7" r="6" fill="#4f6fb8"/>
<circle cx="157.8" cy="871.9" r="6" fill="#4f6fb8"/>
<circle cx="174.5" cy="874.7" r="6" fill="#4f6fb8"/>
<circle cx="168.3" cy="872.2" r="6" fill="#4f6fb8"/>
<circle cx="241.4" cy="739.7" r="6" fill="#4f6fb8"/>
<circle cx="231.6" cy="734.5" r="6" fill="#4f6fb8"/>
<circle cx="245.2" cy="749.1" r="6" fill="#4f6fb8"/>
<circle cx="235.1" cy="750.4" r="6" fill="#4f6fb8"/>
<circle cx="239" cy="820.6" r="6" fill="#4f6fb8"/>
<circle cx="232.7" cy="821.3" r="6" fill="#4f6fb8"/>
<circle cx="245.8" cy="820.1" r="6" fill="#4f6fb8"/>
<circle cx="230.3" cy="836.6" r="6" fill="#4f6fb8"/>
<circle cx="258.8" cy="815.4" r="6" fill="#4f6fb8"/>
<circle cx="257.7" cy="829.6" r="6" fill="#4f6fb8"/>
<circle cx="277.9" cy="825.7" r="6" fill="#4f6fb8"/>
<circle cx="269.7" cy="811.6" r="6" fill="#4f6fb8"/>
<circle cx="283.7" cy="821.6" r="6" fill="#4f6fb8"/>
<circle cx="286.2" cy="815.3" r="6" fill="#4f6fb8"/>
<circle cx="273" cy="829.6" r="6" fill="#4f6fb8"/>
<circle cx="287.4" cy="836.7" r="6" fill="#4f6fb8"/>
<circle cx="176.8" cy="696.5" r="9.9" fill="#7e57a5"/><path d="M167 696.5H186.7M176.8 686.6V706.3"/>
<circle cx="187.8" cy="707.1" r="6" fill="#7e57a5"/>
<circle cx="205.5" cy="706.2" r="6" fill="#7e57a5"/>
<circle cx="235.3" cy="695.2" r="6" fill="#7e57a5"/>
<circle cx="192.5" cy="726.2" r="6.7" fill="#7a1517"/><path d="M185.7 726.2H199.2"/>
<circle cx="210.1" cy="864.7" r="6" fill="#ec2b25"/>
<circle cx="212.2" cy="881.3" r="9.8" fill="#ec2b25"/><path d="M202.5 881.3H222M212.2 871.5V891"/>
<circle cx="227.8" cy="906.4" r="6" fill="#ec2b25"/>
<circle cx="182.5" cy="958.7" r="6" fill="#4f6fb8"/>
<circle cx="188.6" cy="952.7" r="6" fill="#4f6fb8"/>
<circle cx="195.4" cy="967.3" r="6" fill="#627a36"/>
<circle cx="194.5" cy="981.5" r="6" fill="#627a36"/>
<circle cx="209.9" cy="986.3" r="6" fill="#4f6fb8"/>
<circle cx="210.8" cy="957.4" r="6" fill="#c84f9e"/>
<circle cx="215.7" cy="955.4" r="6" fill="#c84f9e"/>
</g>
<g font-family="Liberation Serif, serif" font-weight="bold" fill="#000">
<text x="495.5" y="65.3" font-size="28" text-anchor="middle" dominant-baseline="central" transform="rotate(61.5 495.5 65.3)">Sweden</text>
<text x="442.5" y="133.4" font-size="28" text-anchor="middle" dominant-baseline="central" transform="rotate(51.5 442.5 133.4)">Japan</text>
<text x="367.7" y="209.3" font-size="28" text-anchor="middle" dominant-baseline="central" transform="rotate(38.6 367.7 209.3)">Denmark</text>
<text x="638.4" y="227.6" font-size="28" text-anchor="middle" dominant-baseline="central" transform="rotate(77.9 638.4 227.6)">Norway</text>
<text x="411.8" y="463.2" font-size="28" text-anchor="middle" dominant-baseline="central" transform="rotate(30.2 411.8 463.2)">Lithuania, Latvia, Poland</text>
<text x="197.5" y="532.5" font-size="28" text-anchor="middle" dominant-baseline="central" transform="rotate(38.1 197.5 532.5)">Cluster 2</text>
<text x="183" y="605.5" font-size="28" text-anchor="middle" dominant-baseline="central" transform="rotate(34.6 183 605.5)">Poland</text>
<text x="836.2" y="408.2" font-size="28" text-anchor="middle" dominant-baseline="central" transform="rotate(-49.7 836.2 408.2)">Germany</text>
<text x="1093.3" y="278.2" font-size="28" text-anchor="middle" dominant-baseline="central" transform="rotate(41.9 1093.3 278.2)">France</text>
<text x="1365.2" y="499.3" font-size="28" text-anchor="middle" dominant-baseline="central" transform="rotate(43.4 1365.2 499.3)">Belgium, France</text>
<text x="1270.5" y="739.5" font-size="28.6" text-anchor="middle" dominant-baseline="central" transform="rotate(38.4 1270.5 739.5)">Belgium</text>
<text x="1116.5" y="643.8" font-size="28" text-anchor="middle" dominant-baseline="central" transform="rotate(41.3 1116.5 643.8)">Slovakia</text>
<text x="1042" y="772" font-size="28.6" text-anchor="middle" dominant-baseline="central" transform="rotate(47.4 1042 772)">France</text>
<text x="860.5" y="666.5" font-size="28.3" text-anchor="middle" dominant-baseline="central" transform="rotate(35.9 860.5 666.5)">Groatia</text>
<text x="822" y="775" font-size="28.6" text-anchor="middle" dominant-baseline="central" transform="rotate(25.1 822 775)">Austria</text>
<text x="956" y="815" font-size="28.4" text-anchor="middle" dominant-baseline="central" transform="rotate(32.2 956 815)">Hungary</text>
<text x="331.8" y="920.5" font-size="28" text-anchor="middle" dominant-baseline="central" transform="rotate(19.8 331.8 920.5)">Latvia</text>
<text x="413.5" y="982" font-size="28" text-anchor="middle" dominant-baseline="central" transform="rotate(-46.8 413.5 982)">Cluster 3</text>
<text x="511.7" y="1022" font-size="28" text-anchor="middle" dominant-baseline="central" transform="rotate(36.4 511.7 1022)">Karelia</text>
<text x="717.1" y="862.2" font-size="28" text-anchor="middle" dominant-baseline="central" transform="rotate(16.7 717.1 862.2)">Finland</text>
<text x="646.3" y="1080.3" font-size="28" text-anchor="middle" dominant-baseline="central" transform="rotate(26.8 646.3 1080.3)">Finland</text>
<text x="762.3" y="983.8" font-size="28" text-anchor="middle" dominant-baseline="central" transform="rotate(-43 762.3 983.8)">Karelia</text>
<text x="580.9" y="104.7" font-size="28">China</text>
<text x="689.8" y="167.3" font-size="28">Sweden</text>
<text x="1186.5" y="422.4" font-size="29.6">France</text>
<text x="1228.4" y="658.8" font-size="28">Belgium, France</text>
<text x="1119.6" y="821" font-size="29.6">Germany</text>
<text x="57.9" y="1008.1" font-size="29">Cluster 1</text>
</g>
<text x="513" y="583.6" font-family="Liberation Serif, serif" font-size="13" text-anchor="middle" fill="#1a1a1a">8409</text>
<text font-family="Liberation Sans, sans-serif" font-weight="bold" font-size="85" transform="translate(94.2,90.3) scale(1.03,1)">A</text>
<text font-family="Liberation Sans, sans-serif" font-weight="bold" font-size="85" transform="translate(96.3,1304.3)">B</text>
<g stroke="#000" stroke-width="3">
<rect x="1551.5" y="28.5" width="32" height="31" fill="#7dc242"/>
<rect x="1551.5" y="81.6" width="32" height="31" fill="#ef5f92"/>
<rect x="1551.5" y="134.7" width="32" height="31" fill="#aadcc5"/>
<rect x="1551.5" y="187.8" width="32" height="31" fill="#b1bfc0"/>
<rect x="1551.5" y="240.9" width="32" height="31" fill="#4e6fba"/>
<rect x="1551.5" y="294" width="32" height="31" fill="#ec2a24"/>
<rect x="1551.5" y="347.1" width="32" height="31" fill="#c84fa0"/>
<rect x="1551.5" y="400.2" width="32" height="31" fill="#ede51c"/>
<rect x="1551.5" y="453.3" width="32" height="31" fill="#617a36"/>
<rect x="1551.5" y="506.4" width="32" height="31" fill="#7d57a6"/>
<rect x="1551.5" y="559.5" width="32" height="31" fill="#7a1416"/>
</g>
<g font-family="Liberation Sans, sans-serif" font-size="28.4" fill="#000">
<text transform="translate(1603.2,51.6) scale(1.074,1)">Saratov ar.</text>
<text transform="translate(1603.2,104.7) scale(1.074,1)">Novyeburassy_Saratov ar.</text>
<text transform="translate(1603.2,157.8) scale(1.074,1)">Hvalynsk_Saratov ar.</text>
<text transform="translate(1603.2,210.9) scale(1.074,1)">Engels_Saratov ar.</text>
<text transform="translate(1603.2,264) scale(1.074,1)">Tatarstan</text>
<text transform="translate(1603.2,317.1) scale(1.074,1)">Bashkortostan</text>
<text transform="translate(1603.2,370.2) scale(1.074,1)">Ulyanovsk ar.</text>
<text transform="translate(1603.2,423.3) scale(1.074,1)">Udmurtia</text>
<text transform="translate(1603.2,476.4) scale(1.074,1)">Penza ar.</text>
<text transform="translate(1603.2,529.5) scale(1.074,1)">Samara ar.</text>
<text transform="translate(1603.2,582.6) scale(1.074,1)">Switzerland</text>
</g>
<g stroke="#000" stroke-width="3">
<rect x="1551.5" y="668" width="34" height="33" fill="#f26130"/>
<rect x="1551.5" y="725.1" width="34" height="33" fill="#5b62ad"/>
<rect x="1551.5" y="784.5" width="34" height="33" fill="#b3c4c4"/>
<rect x="1551.5" y="875.5" width="34" height="33" fill="#20ad4b"/>
<rect x="1551.5" y="932" width="34" height="33" fill="#8dc63f"/>
<rect x="1551.5" y="988.9" width="34" height="33" fill="#3f51a3"/>
<rect x="1551.5" y="1082.5" width="34" height="33" fill="#0a0a10"/>
</g>
<g font-family="Liberation Sans, sans-serif" font-size="30.2" fill="#000">
<text transform="translate(1606.3,693.1) scale(1.07,1)">Kursk ar.</text>
<text transform="translate(1606.3,750.2) scale(1.07,1)">Moskow ar.</text>
<text transform="translate(1606.3,809.6) scale(1.07,1)">Ivanovo ar.</text>
<text transform="translate(1606.3,900.6) scale(1.07,1)">Omsk ar.</text>
<text transform="translate(1606.3,957.1) scale(1.07,1)">Tyumen ar.</text>
<text transform="translate(1606.3,1014) scale(1.07,1)">Arkhangelsk ar.</text>
<text transform="translate(1606.3,1107.6) scale(1.07,1)">Karelia</text>
</g>
<text font-family="Liberation Serif, serif" font-weight="bold" font-size="52" transform="translate(1932.5,401.7) rotate(-90) scale(1.010,1)">Cluster 1</text>
<text font-family="Liberation Serif, serif" font-weight="bold" font-size="52" transform="translate(1841,840.6) rotate(-90) scale(1.010,1)">Cluster 2</text>
<text font-family="Liberation Serif, serif" font-weight="bold" font-size="52" transform="translate(1915.8,1071.1) rotate(-90) scale(1.010,1)">Cluster 3</text>
<text font-family="Liberation Serif, serif" font-weight="bold" font-size="52" transform="translate(1499.3,1861.7) rotate(-90) scale(1.002,1)">Cluster 1</text>
<path d="M490.4 1688 L512.7 1692.3 L572.8 1695.3 L691.3 1692.5 L725.4 1677 L748.5 1675 L950.4 1589.6M725.4 1677 L731.4 1620.7 L724.4 1588 L714.3 1544M731.4 1620.7 L753.5 1584.5 L742.5 1558.4M748.5 1675 L787.6 1734.4 L792.6 1768.7M787.6 1734.4 L823.9 1758.1 L871.3 1768.4M823.9 1758.1 L847.6 1797.2M823.9 1758.1 L833.6 1808.3M847.6 1797.2 L874.7 1827.8M691.3 1692.5 L719.2 1755.3 L717.9 1785.2 L710.9 1827.8M719.2 1755.3 L736 1783.2M719.2 1755.3 L755.5 1781.8M572.8 1695.3 L592.3 1772 L593.7 2000 L587.2 2108.4 L591.7 2150.7M587.2 2108.4 L574.3 2167.3M592.3 1772 L607.5 1950 L611.2 1994.2 L614.9 2130.5 L611.2 2191.3 L608.6 2230.7M614.9 2130.5 L652.8 2243.9M611.2 1994.2 L657.2 2141.5 L669.4 2158.1M592.3 1772 L628.6 1910.2 L659.3 1952M653.1 1906 L659.3 1952 L704 2021.8M512.7 1692.3 L512.8 1793 L491.9 1848.8 L479.3 1864.1M491.9 1848.8 L493.2 1867.7M512.8 1793 L517 1820.9 L517 1896.2 L503 1926.1M517 1896.2 L533.1 1926.9M517 1896.2 L551 1933.9M517 1820.9 L536.5 1860 L543.5 1893.4M536.5 1860 L564.4 1896.2M490.4 1688 L475 1696.5 L449.9 1790 L403.9 1868.1M449.9 1790 L424.3 1889 L402.5 1903M449.9 1790 L437.4 1904.4M449.9 1790 L455.5 1896M475 1696.5 L431.8 1718.8 L398.3 1746.7 L343.9 1769 L288.1 1790 L262 1782M288.1 1790 L263 1797M431.8 1718.8 L340.8 1692.5 L328.6 1669.1M398.3 1746.7 L377.4 1840.2 L373.2 1893.7M402.5 1903 L380.2 1949.6M377.4 1840.2 L357.9 1880.6M343.9 1769 L336.9 1838.8 L335.5 1854.1M288.1 1790 L293.7 1840.2 L295.1 1854.1M288.1 1790 L274.2 1815 L267.2 1831.8M242.9 1737.5 L254 1760 L262 1781 L288.1 1790M274.2 1758.7 L268.5 1777 L288.1 1790M232.9 1788.6 L179.3 1774.6 L137.4 1764.8M232.9 1788.6 L157.8 1788.6M232.9 1788.6 L175.1 1802.5 L130.5 1815.1M232.9 1788.6 L184.9 1816.5M232.9 1788.6 L246.2 1806.7 L267.2 1831.8M267.2 1831.8 L229.5 1863.9M229.5 1863.9 L182.1 1866.7M229.5 1863.9 L177.9 1883.4M229.5 1863.9 L260.2 1873.7 L274.2 1875M229.5 1863.9 L195.5 1903 L173.7 1900.2M229.5 1863.9 L203 1928.1M229.5 1863.9 L221.1 1909.9M229.5 1863.9 L254.1 1916.9 L260.8 1956 L235.9 1976.1 L227 2026.2M227 2026.2 L191.8 2016M227 2026.2 L220.8 2055 L213.4 2082.6 L154.5 2123.1 L144.5 2141.5M213.4 2082.6 L211.5 2093.6 L214.5 2125M211.5 2093.6 L191.3 2131.2M213.4 2082.6 L235.5 2128.6 L247.6 2144.5M235.5 2128.6 L229.2 2151.8M490.4 1688 L472.5 1656.8 L465.8 1624.4 L450.2 1604.3 L422.3 1583.1 L372 1558.6 L349.7 1534M472.5 1656.8 L354.2 1632.2 L219.7 1607.2M354.2 1632.2 L311.8 1612.8M354.2 1632.2 L294.5 1643.5M328.6 1669.1 L305.1 1681.3 L191.8 1626.7M305.1 1681.3 L228.7 1659.7M305.1 1681.3 L267.2 1685.9M305.1 1681.3 L263 1703.5M465.8 1624.4 L490.4 1580.9 L557 1438.4M490.4 1580.9 L560.7 1494.6 L588.6 1467.8M560.7 1494.6 L638.4 1465.1 L724.8 1434.7M560.7 1494.6 L602 1520.9M450.2 1604.3 L452.4 1563 L469.1 1496.2 L467.4 1457.6 L444.3 1379M467.4 1457.6 L464.9 1389.8M467.4 1457.6 L482.5 1362.2M467.4 1457.6 L498.4 1382.3M467.4 1457.6 L488.9 1425M469.1 1496.2 L525.2 1374.8 L539.4 1325.4 L553.6 1286M469.1 1496.2 L538.6 1382.3M469.1 1496.2 L553.6 1388.2M422.3 1583.1 L423.9 1481.1 L420.5 1456 L410.5 1349.7M420.5 1456 L423.9 1332.1M420.5 1456 L390 1376 L362.3 1348M390 1376 L387.1 1335.4 L386.2 1292.7M362.3 1348 L361.9 1308.6 L345.5 1263.1M362.3 1348 L331 1309.5M423.9 1481.1 L362.8 1388.2 L352.2 1372.3M422.3 1583.1 L374.3 1487.1 L362 1471.5M374.3 1487.1 L376.5 1463.7M349.7 1534 L283.9 1505M349.7 1534 L308.4 1478.2M349.7 1534 L278.3 1471.5 L280.5 1443.6 L260.8 1405.4M280.5 1443.6 L249.6 1416.5M349.7 1534 L318.4 1445.1 L312.1 1429.9 L297.6 1381.9M312.1 1429.9 L276.4 1378.6M349.7 1534 L333.3 1437.7M349.7 1534 L216.2 1438.4M349.7 1534 L267.5 1510.3 L216.2 1494.2M372 1558.6 L300.6 1550.8 L248.2 1551.9 L212.8 1566.1M248.2 1551.9 L182.7 1561.6M248.2 1551.9 L171.5 1589.5M300.6 1550.8 L248.2 1527.3 L229.6 1518.1M248.2 1527.3 L201.7 1523.7M248.2 1527.3 L181.6 1530.4M248.2 1527.3 L178.2 1544.9" fill="none" stroke="#000" stroke-width="2.7" stroke-linejoin="round"/>
<g stroke="#000" stroke-width="2.6">
<circle cx="345.5" cy="1263.1" r="16.9" fill="#4f6fb8"/>
<circle cx="361.9" cy="1308.6" r="16.9" fill="#4f6fb8"/>
<circle cx="331" cy="1309.5" r="16.9" fill="#4f6fb8"/>
<circle cx="386.2" cy="1292.7" r="16.9" fill="#4f6fb8"/>
<circle cx="410.5" cy="1349.7" r="16.9" fill="#4f6fb8"/>
<circle cx="387.1" cy="1335.4" r="16.9" fill="#4f6fb8"/>
<circle cx="423.9" cy="1332.1" r="16.9" fill="#4f6fb8"/>
<circle cx="362.3" cy="1348" r="19.2" fill="#4f6fb8"/><path d="M343.1 1348H381.5"/>
<circle cx="352.2" cy="1372.3" r="16.9" fill="#4f6fb8"/>
<circle cx="553.6" cy="1286" r="16.9" fill="#4f6fb8"/>
<circle cx="539.4" cy="1325.4" r="16.9" fill="#4f6fb8"/>
<circle cx="482.5" cy="1362.2" r="16.9" fill="#4f6fb8"/>
<circle cx="444.3" cy="1379" r="16.9" fill="#4f6fb8"/>
<circle cx="464.9" cy="1389.8" r="16.9" fill="#4f6fb8"/>
<circle cx="498.4" cy="1382.3" r="16.9" fill="#4f6fb8"/>
<circle cx="525.2" cy="1374.8" r="16.9" fill="#4f6fb8"/>
<circle cx="538.6" cy="1382.3" r="16.9" fill="#4f6fb8"/>
<circle cx="553.6" cy="1388.2" r="16.9" fill="#4f6fb8"/>
<circle cx="488.9" cy="1425" r="16.9" fill="#4f6fb8"/>
<circle cx="276.4" cy="1378.6" r="16.9" fill="#c84f9e"/>
<circle cx="297.6" cy="1381.9" r="16.9" fill="#c84f9e"/>
<circle cx="249.6" cy="1416.5" r="16.9" fill="#4f6fb8"/>
<circle cx="260.8" cy="1405.4" r="16.9" fill="#4f6fb8"/>
<circle cx="216.2" cy="1438.4" r="16.9" fill="#4f6fb8"/>
<circle cx="280.5" cy="1443.6" r="16.9" fill="#4f6fb8"/>
<circle cx="333.3" cy="1437.7" r="16.9" fill="#c84f9e"/>
<circle cx="318.4" cy="1445.1" r="16.9" fill="#c84f9e"/>
<circle cx="278.3" cy="1471.5" r="16.9" fill="#4f6fb8"/>
<circle cx="308.4" cy="1478.2" r="16.9" fill="#4f6fb8"/>
<circle cx="283.9" cy="1505" r="16.9" fill="#4f6fb8"/>
<circle cx="362" cy="1471.5" r="16.9" fill="#4f6fb8"/>
<circle cx="376.5" cy="1463.7" r="16.9" fill="#4f6fb8"/>
<circle cx="229.6" cy="1518.1" r="16.9" fill="#4f6fb8"/>
<circle cx="216.2" cy="1494.2" r="16.9" fill="#4f6fb8"/>
<circle cx="201.7" cy="1523.7" r="16.9" fill="#4f6fb8"/>
<circle cx="178.2" cy="1544.9" r="16.9" fill="#4f6fb8"/>
<circle cx="181.6" cy="1530.4" r="16.9" fill="#4f6fb8"/>
<circle cx="182.7" cy="1561.6" r="16.9" fill="#4f6fb8"/>
<circle cx="212.8" cy="1566.1" r="16.9" fill="#4f6fb8"/>
<circle cx="171.5" cy="1589.5" r="16.9" fill="#4f6fb8"/>
<circle cx="219.7" cy="1607.2" r="16.9" fill="#aedcc6"/>
<circle cx="311.8" cy="1612.8" r="16.9" fill="#aedcc6"/>
<circle cx="294.5" cy="1643.5" r="16.9" fill="#aedcc6"/>
<circle cx="191.8" cy="1626.7" r="16.9" fill="#eee71c"/>
<circle cx="228.7" cy="1659.7" r="16.9" fill="#eee71c"/>
<circle cx="263" cy="1703.5" r="16.9" fill="#eee71c"/>
<circle cx="267.2" cy="1685.9" r="16.9" fill="#eee71c"/>
<circle cx="329.4" cy="1670" r="16.9" fill="#4f6fb8"/>
<circle cx="237" cy="1773" r="16.9" fill="#7cc243"/>
<circle cx="242.9" cy="1737.5" r="16.9" fill="#ef5f93"/>
<circle cx="274.2" cy="1758.7" r="16.9" fill="#7cc243"/>
<circle cx="137.4" cy="1764.8" r="16.9" fill="#7cc243"/>
<circle cx="179.3" cy="1774.6" r="16.9" fill="#7cc243"/>
<circle cx="246.2" cy="1806.7" r="16.9" fill="#7cc243"/>
<circle cx="232.9" cy="1788.6" r="25.3" fill="#7cc243"/><path d="M232.9 1788.6L258.2 1788.6M232.9 1788.6L220.2 1810.5M232.9 1788.6L220.2 1766.7"/>
<circle cx="184.9" cy="1816.5" r="16.9" fill="#7cc243"/>
<circle cx="175.1" cy="1802.5" r="16.9" fill="#7cc243"/>
<circle cx="157.8" cy="1788.6" r="16.9" fill="#7cc243"/>
<circle cx="130.5" cy="1815.1" r="16.9" fill="#7cc243"/>
<circle cx="267.2" cy="1831.8" r="16.9" fill="#7cc243"/>
<circle cx="295.1" cy="1854.1" r="16.9" fill="#7cc243"/>
<circle cx="182.1" cy="1866.7" r="16.9" fill="#7cc243"/>
<circle cx="173.7" cy="1900.2" r="16.9" fill="#7cc243"/>
<circle cx="177.9" cy="1883.4" r="16.9" fill="#7cc243"/>
<circle cx="260.2" cy="1873.7" r="16.9" fill="#7cc243"/>
<circle cx="274.2" cy="1875" r="16.9" fill="#7cc243"/>
<circle cx="229.5" cy="1863.9" r="18.2" fill="#7cc243"/><path d="M211.3 1863.9H247.7"/>
<circle cx="221.1" cy="1909.9" r="16.9" fill="#7cc243"/>
<circle cx="195.5" cy="1903" r="16.9" fill="#7cc243"/>
<circle cx="254.1" cy="1916.9" r="16.9" fill="#7cc243"/>
<circle cx="203" cy="1928.1" r="16.9" fill="#7cc243"/>
<circle cx="260.8" cy="1956" r="16.9" fill="#7cc243"/>
<circle cx="235.9" cy="1976.1" r="16.9" fill="#7cc243"/>
<circle cx="191.8" cy="2016" r="16.9" fill="#7cc243"/>
<circle cx="227" cy="2026.2" r="25.5" fill="#7cc243"/><path d="M227 2026.2L252.5 2026.2M227 2026.2L214.2 2048.3M227 2026.2L214.2 2004.1"/>
<circle cx="129.8" cy="2127.5" r="19.3" fill="#b2c0c0"/><path d="M110.5 2127.5H149.1"/>
<circle cx="144.5" cy="2141.5" r="16.9" fill="#b2c0c0"/>
<circle cx="214.5" cy="2125" r="16.9" fill="#7cc243"/>
<circle cx="191.3" cy="2131.2" r="16.9" fill="#7cc243"/>
<circle cx="247.6" cy="2144.5" r="16.9" fill="#7cc243"/>
<circle cx="229.2" cy="2151.8" r="16.9" fill="#7cc243"/>
<circle cx="335.5" cy="1854.1" r="16.9" fill="#4f6fb8"/>
<circle cx="357.9" cy="1880.6" r="16.9" fill="#eee71c"/>
<circle cx="402.5" cy="1903" r="16.9" fill="#4f6fb8"/>
<circle cx="373" cy="1894" r="16.9" fill="#eee71c"/>
<circle cx="380.2" cy="1949.6" r="16.9" fill="#4f6fb8"/>
<circle cx="403.9" cy="1868.1" r="16.9" fill="#4f6fb8"/>
<circle cx="437.4" cy="1904.4" r="16.9" fill="#4f6fb8"/>
<circle cx="424.3" cy="1889" r="16.9" fill="#4f6fb8"/>
<circle cx="455.5" cy="1896" r="16.9" fill="#4f6fb8"/>
<circle cx="493.2" cy="1867.7" r="16.9" fill="#4f6fb8"/>
<circle cx="479.3" cy="1864.1" r="16.9" fill="#4f6fb8"/>
<circle cx="543.5" cy="1893.4" r="16.9" fill="#4f6fb8"/>
<circle cx="564.4" cy="1896.2" r="16.9" fill="#4f6fb8"/>
<circle cx="517" cy="1931.1" r="16.9" fill="#4f6fb8"/>
<circle cx="503" cy="1926.1" r="16.9" fill="#4f6fb8"/>
<circle cx="551" cy="1933.9" r="16.9" fill="#4f6fb8"/>
<circle cx="533.1" cy="1926.9" r="16.9" fill="#4f6fb8"/>
<circle cx="742.5" cy="1558.4" r="16.9" fill="#4f6fb8"/>
<circle cx="714.3" cy="1544" r="16.9" fill="#4f6fb8"/>
<circle cx="753.5" cy="1584.5" r="16.9" fill="#4f6fb8"/>
<circle cx="724.4" cy="1588" r="16.9" fill="#4f6fb8"/>
<circle cx="736" cy="1783.2" r="16.9" fill="#4f6fb8"/>
<circle cx="717.9" cy="1785.2" r="16.9" fill="#4f6fb8"/>
<circle cx="755.5" cy="1781.8" r="16.9" fill="#4f6fb8"/>
<circle cx="710.9" cy="1827.8" r="16.9" fill="#4f6fb8"/>
<circle cx="792.6" cy="1768.7" r="16.9" fill="#4f6fb8"/>
<circle cx="789.6" cy="1808.3" r="16.9" fill="#4f6fb8"/>
<circle cx="847.6" cy="1797.2" r="16.9" fill="#4f6fb8"/>
<circle cx="823.9" cy="1758.1" r="16.9" fill="#4f6fb8"/>
<circle cx="864.3" cy="1786" r="16.9" fill="#4f6fb8"/>
<circle cx="871.3" cy="1768.4" r="16.9" fill="#4f6fb8"/>
<circle cx="833.6" cy="1808.3" r="16.9" fill="#4f6fb8"/>
<circle cx="874.7" cy="1827.8" r="16.9" fill="#4f6fb8"/>
<circle cx="557" cy="1438.4" r="29.7" fill="#7e57a5"/><path d="M527.3 1438.4H586.7M557 1408.7V1468.1"/>
<circle cx="588.6" cy="1467.8" r="16.9" fill="#7e57a5"/>
<circle cx="639.5" cy="1465.4" r="16.9" fill="#7e57a5"/>
<circle cx="724.8" cy="1434.7" r="16.9" fill="#7e57a5"/>
<circle cx="602" cy="1520.9" r="19.3" fill="#7a1517"/><path d="M582.7 1520.9H621.3"/>
<circle cx="653.1" cy="1906" r="16.9" fill="#ec2b25"/>
<circle cx="659.3" cy="1952" r="29.4" fill="#ec2b25"/><path d="M629.9 1952H688.7M659.3 1922.6V1981.4"/>
<circle cx="704" cy="2021.8" r="16.9" fill="#ec2b25"/>
<circle cx="574.3" cy="2167.3" r="16.9" fill="#4f6fb8"/>
<circle cx="591.7" cy="2150.7" r="16.9" fill="#4f6fb8"/>
<circle cx="611.2" cy="2191.3" r="16.9" fill="#627a36"/>
<circle cx="608.6" cy="2230.7" r="16.9" fill="#627a36"/>
<circle cx="652.8" cy="2243.9" r="16.9" fill="#4f6fb8"/>
<circle cx="655.4" cy="2163.6" r="16.9" fill="#c84f9e"/>
<circle cx="669.4" cy="2158.1" r="16.9" fill="#c84f9e"/>
</g>
<ellipse cx="639" cy="1466" rx="25.8" ry="23.6" fill="none" stroke="#ec1d25" stroke-width="8"/>
<ellipse cx="331" cy="1670" rx="23.8" ry="22.9" fill="none" stroke="#ec1d25" stroke-width="8"/>
<ellipse cx="372.8" cy="1894" rx="23.7" ry="21.3" fill="none" stroke="#ec1d25" stroke-width="8.2"/>
<path d="M517 1437.9L557.5 1438.2L553.7 1477.9ZM536.6 1446L547.4 1458.8L548.9 1446Z" fill="#ec1d25" fill-rule="evenodd"/>
<g stroke="#000" stroke-width="3.4">
<rect x="998.3" y="1372.6" width="41.2" height="41.8" fill="#7dc242"/>
<rect x="998.3" y="1442.7" width="41.2" height="41.8" fill="#ef5f92"/>
<rect x="998.3" y="1512.8" width="41.2" height="41.8" fill="#aadcc5"/>
<rect x="998.3" y="1582.8" width="41.2" height="41.8" fill="#b1bfc0"/>
<rect x="998.3" y="1652.9" width="41.2" height="41.8" fill="#4e6fba"/>
<rect x="998.3" y="1723" width="41.2" height="41.8" fill="#ec2a24"/>
<rect x="998.3" y="1793.1" width="41.2" height="41.8" fill="#c84fa0"/>
<rect x="998.3" y="1863.2" width="41.2" height="41.8" fill="#ede51c"/>
<rect x="998.3" y="1933.2" width="41.2" height="41.8" fill="#617a36"/>
<rect x="998.3" y="2003.3" width="41.2" height="41.8" fill="#7d57a6"/>
<rect x="998.3" y="2073.4" width="41.2" height="41.8" fill="#7a1416"/>
</g>
<g font-family="Liberation Sans, sans-serif" font-size="37.2" fill="#000">
<text x="1065" y="1403.8">Saratov ar.</text>
<text x="1065" y="1473.9">Novyeburassy_Saratov ar.</text>
<text x="1065" y="1544">Hvalynsk_Saratov ar.</text>
<text x="1065" y="1614">Engels_Saratov ar.</text>
<text x="1065" y="1684.1">Tatarstan</text>
<text x="1065" y="1754.2">Bashkortostan</text>
<text x="1065" y="1824.3">Ulyanovsk ar.</text>
<text x="1065" y="1894.4">Udmurtia</text>
<text x="1065" y="1964.4">Penza ar.</text>
<text x="1065" y="2034.5">Samara ar.</text>
<text x="1065" y="2104.6">Switzerland</text>
</g>
</svg>
</body></html>
